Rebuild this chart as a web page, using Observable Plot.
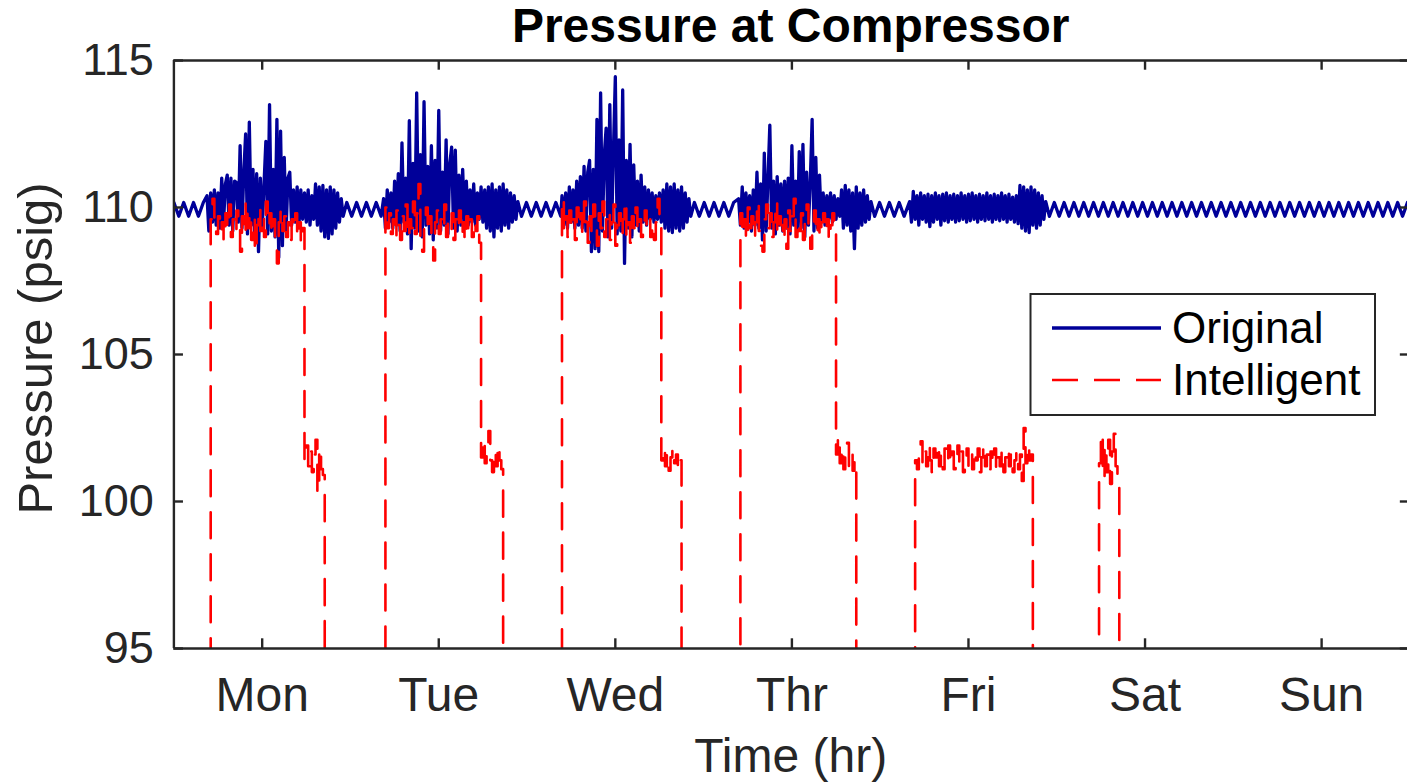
<!DOCTYPE html>
<html>
<head>
<meta charset="utf-8">
<script src="https://cdn.jsdelivr.net/npm/d3@7"></script>
<script src="https://cdn.jsdelivr.net/npm/@observablehq/plot@0.6"></script>
<style>
  body { margin: 0; background: #fff; overflow: hidden; }
  #chart { position: relative; width: 1407px; height: 784px; background: #fff;
           font-family: "Liberation Sans", Arial, Helvetica, sans-serif; }
  #chart svg.legend { position: absolute; left: 0; top: 0; }
</style>
</head>
<body>
<div id="chart"></div>
<script>
// ---- axis labels ----
const dayNames = ["Mon", "Tue", "Wed", "Thr", "Fri", "Sat", "Sun"];
const dayTicks = [12, 36, 60, 84, 108, 132, 156];          // hours (mid-day)
const pressureTicks = [95, 100, 105, 110, 115];            // psig

// sampling intervals (hours)
const busyStep = 0.25;
const quietStep = 2 / 3;

// ---- Original: compressor pressure (psig) ----
const quietMonMorning = [110.17,109.70,110.17,109.70,110.17,109.70,110.17];
const monOriginal = [110.4,109.2,110.5,109.5,110.6,109.4,110.5,109.3,111.0,109.5,
  110.8,111.1,109.4,111.0,109.2,110.9,110.85,109.5,112.1,109.3,
  111.2,112.5,109.1,112.9,109.4,111.3,108.9,111.15,108.5,111.0,
  109.3,110.8,112.25,109.1,113.5,109.2,111.3,109.0,113.0,108.3,
  112.6,108.7,111.7,109.2,111.0,111.2,109.4,110.6,109.5,110.7,
  109.4,110.6,109.6,110.5,109.5,110.6,109.4,110.4,109.6,110.8,
  109.4,110.7,109.2,110.75,109.0,110.6,108.95,110.7,109.1,110.6,
  109.3,110.5,109.5,110.3,109.7];
const quietMonNight = [110.17,109.70,110.17,109.70,110.17,109.70,110.17,109.70];
const tueOriginal = [110.3,109.3,110.6,109.5,110.5,109.3,110.9,109.4,111.15,109.2,
  112.2,109.5,111.0,109.1,112.95,108.6,111.5,109.3,113.9,109.2,
  111.8,109.0,113.6,109.4,111.4,109.1,112.1,108.9,111.6,109.3,
  113.3,109.2,111.2,109.4,112.3,109.1,111.5,112.05,109.3,111.95,
  109.2,111.1,109.4,111.3,109.5,110.9,109.4,110.6,109.5,110.8,
  109.4,110.5,109.6,110.7,109.5,110.6,109.3,110.7,109.2,110.8,
  109.0,110.6,109.3,110.7,109.2,110.8,109.4,110.6,109.3,110.5,
  109.5,110.4,109.6,110.2];
const quietTueNight = [109.70,110.17,109.70,110.17,109.70,110.17,109.70,110.17,109.70];
const wedOriginal = [110.4,109.4,110.5,109.3,110.7,109.5,110.6,109.3,110.9,109.4,
  111.05,109.3,111.4,109.2,111.2,111.6,108.5,111.3,108.6,113.0,
  108.5,113.9,109.2,111.8,112.7,109.0,113.5,109.3,112.0,114.45,
  109.1,112.3,109.2,114.0,108.1,111.6,109.3,112.15,109.0,111.45,
  109.4,110.9,109.2,111.1,109.5,110.7,109.4,110.6,109.6,110.5,
  109.5,110.4,109.6,110.5,109.5,110.6,109.3,110.8,109.2,110.7,
  109.15,110.8,109.3,110.6,109.2,110.7,109.3,110.5,109.5,110.3,
  109.7];
const quietWedNight = [110.17,109.70,110.17,109.70,110.17,109.70,110.17,109.70,110.17];
const thrOriginal = [110.3,109.4,110.7,109.3,110.5,109.5,110.4,109.2,110.6,109.4,
  111.2,109.3,110.8,108.9,111.85,109.2,111.0,112.8,109.3,110.9,
  109.1,111.05,109.4,110.8,109.2,110.9,109.3,111.0,109.1,112.1,
  109.4,110.9,109.2,111.9,109.3,112.15,109.0,111.2,109.4,110.9,
  113.0,109.2,111.7,109.3,111.1,109.5,110.5,109.4,110.4,109.6,
  110.5,109.5,110.4,109.6,110.3,109.7,110.6,109.3,110.75,109.4,
  110.6,109.2,110.5,108.6,110.7,109.3,110.5,109.4,110.6,109.5,
  110.4,109.6,110.2];
const quietThrNight = [109.70,110.17,109.70,110.17,109.70,110.17,109.70];
const friOriginal = [110.2,109.5,110.55,109.6,110.4,109.4,110.5,109.6,110.4,109.5,
  110.45,109.35,110.4,109.5,110.5,109.6,110.4,109.4,110.45,109.55,
  110.5,109.5,110.4,109.6,110.45,109.5,110.4,109.55,110.5,109.6,
  110.4,109.5,110.45,109.55,110.5,109.6,110.4,109.5,110.45,109.6,
  110.4,109.55,110.5,109.6,110.4,109.5,110.45,109.6,110.4,109.55,
  110.5,109.6,110.4,109.5,110.45,109.6,110.35,109.5,110.4,109.45,
  110.75,109.3,110.7,109.2,110.6,109.15,110.7,109.4,110.6,109.3,
  110.5,109.4,110.4,109.6,110.2];
const quietWeekend = [109.70,110.17,109.70,110.17,109.70,110.17,109.70,110.17,109.70,110.17,
  109.70,110.17,109.70,110.17,109.70,110.17,109.70,110.17,109.70,110.17,
  109.70,110.17,109.70,110.17,109.70,110.17,109.70,110.17,109.70,110.17,
  109.70,110.17,109.70,110.17,109.70,110.17,109.70,110.17,109.70,110.17,
  109.70,110.17,109.70,110.17,109.70,110.17,109.70,110.17,109.70,110.17,
  109.70,110.17,109.70,110.17,109.70,110.17,109.70,110.17,109.70,110.17,
  109.70,110.17,109.70,110.17,109.70,110.17,109.70,110.17,109.70,110.17,
  109.70,110.17,109.70,110.17,109.70];

// ---- Intelligent: compressor pressure (psig); 0 = compressor off ----
const monIntelligent = [109.6,110.3,109.4,109.1,109.7,109.2,109.5,108.9,109.8,109.3,
  110.1,109.0,109.6,109.2,109.9,109.4,108.5,109.7,109.1,110.2,
  109.3,109.8,108.9,109.6,108.5,109.4,110.0,109.2,109.7,109.0,
  110.2,109.4,109.8,109.1,109.6,108.8,108.1,109.5,109.9,109.2,
  109.7,109.0,109.5,108.9,109.6,109.3,109.8,109.0,109.5,108.8,
  109.3,
  101.4,101.9,101.2,101.7,101.0,101.6,102.1,100.3,101.8,101.1,100.9,
  0];
const tueIntelligent = [110.0,109.3,109.8,109.1,109.6,109.0,109.9,109.4,108.9,109.7,
  109.2,110.1,109.0,109.6,109.3,110.2,109.1,109.8,110.8,108.6,
  108.5,109.4,110.0,109.2,109.7,108.9,108.2,109.5,109.9,109.1,
  109.6,109.3,110.1,109.0,109.5,109.2,109.8,108.9,109.6,109.3,
  109.9,109.1,109.5,108.9,109.7,109.2,109.6,109.0,109.5,109.2,
  109.7,108.8,
  101.5,102.1,101.3,101.8,102.4,101.4,101.0,101.7,101.2,101.9,101.4,101.1,
  0];
const wedIntelligent = [110.3,109.2,109.7,109.0,109.9,109.3,109.6,108.9,110.0,109.4,
  109.8,109.1,110.2,109.5,108.8,109.7,109.2,110.1,109.4,108.7,
  109.8,109.3,110.2,109.0,109.6,109.9,108.9,109.5,110.1,108.7,
  109.4,109.8,109.1,109.6,110.2,109.0,109.5,108.8,109.7,109.3,
  110.0,109.2,109.6,109.0,109.5,109.9,109.3,109.6,109.0,109.4,
  108.9,109.5,110.3,109.3,
  101.4,101.8,101.2,101.6,101.05,101.5,101.8,101.3,101.6,101.1,101.4,
  0];
const thrIntelligent = [109.8,109.1,109.6,108.9,110.0,109.3,109.7,109.0,109.5,110.2,
  109.2,108.7,108.5,109.6,110.1,109.3,109.8,109.0,109.5,110.2,
  109.1,109.7,109.4,108.9,109.6,108.6,109.9,109.2,109.7,110.3,
  109.0,109.5,109.2,109.8,108.9,109.6,110.1,109.3,108.6,109.4,
  109.9,109.1,109.6,109.0,109.5,109.8,109.2,109.6,108.9,109.4,
  109.8,109.1,
  101.6,102.2,101.3,101.8,101.1,101.5,102.0,101.2,101.6,101.05,101.4,
  0];
const friIntelligent = [101.4,101.1,101.8,102.05,101.3,101.7,101.2,101.9,101.4,101.0,
  101.8,101.5,101.9,101.2,101.6,101.1,101.8,101.4,101.9,101.3,
  101.7,101.1,101.6,101.9,101.3,101.7,101.0,101.5,101.8,101.2,
  101.6,101.1,101.7,101.4,101.8,101.0,101.5,101.9,101.2,101.6,
  101.1,101.7,101.3,101.8,101.1,101.5,101.2,101.7,101.0,101.5,
  101.8,101.2,101.6,101.0,101.4,101.7,101.1,101.6,100.7,102.5,
  101.3,101.9,101.4,101.6,
  0];
const satIntelligent = [101.3,102.3,100.8,101.9,101.0,102.1,100.6,101.7,102.3,101.2,100.9,0];

// ---- segment start times (hours since Monday 00:00) ----
const originalSegments = [
  [0, quietStep, quietMonMorning], [4.5, busyStep, monOriginal],
  [23.5, quietStep, quietMonNight], [28.5, busyStep, tueOriginal],
  [47.25, quietStep, quietTueNight], [52.75, busyStep, wedOriginal],
  [70.75, quietStep, quietWedNight], [76.75, busyStep, thrOriginal],
  [95.25, quietStep, quietThrNight], [100, busyStep, friOriginal],
  [119, quietStep, quietWeekend]
];
const intelligentSegments = [
  [5.0, busyStep, monIntelligent], [28.75, busyStep, tueIntelligent],
  [52.75, busyStep, wedIntelligent], [77.0, busyStep, thrIntelligent],
  [100.75, busyStep, friIntelligent], [125.75, busyStep, satIntelligent]
];

const toRows = segs => segs.flatMap(([start, step, values]) =>
  values.map((p, i) => ({t: start + i * step, p})));

const original = toRows(originalSegments);
const intelligent = [{t: 0, p: 0}, ...toRows(intelligentSegments), {t: 168, p: 0}];

const axisColor = "#262626";
const font = "Liberation Sans, Arial, Helvetica, sans-serif";
const blue = "#000099";
const red = "#ff0000";

const chart = Plot.plot({
  width: 1407,
  height: 784,
  marginLeft: 173.4,
  marginRight: 0,
  marginTop: 60,
  marginBottom: 136,
  style: {fontFamily: font, background: "white", overflow: "visible"},
  x: {domain: [0, 168], range: [173.4, 1409.4], axis: null},
  y: {domain: [95, 115], range: [648, 60], axis: null},
  marks: [
    Plot.line(original, {x: "t", y: "p", stroke: blue, strokeWidth: 3.3, clip: true}),
    Plot.line(intelligent, {x: "t", y: "p", stroke: red, strokeWidth: 2.6,
      strokeDasharray: "26,16", curve: "step-after", clip: true}),

    // box
    Plot.ruleX([0], {x: d => d, y1: () => 95, y2: () => 115, stroke: axisColor, strokeWidth: 2.4}),
    Plot.ruleY([95, 115], {y: d => d, x1: () => 0, x2: () => 168, stroke: axisColor, strokeWidth: 2.4}),

    // inward ticks
    Plot.ruleY(pressureTicks, {y: d => d, x1: () => 0, x2: () => 1.3, stroke: axisColor, strokeWidth: 2.4}),
    Plot.ruleY(pressureTicks, {y: d => d, x1: () => 166.7, x2: () => 168, stroke: axisColor, strokeWidth: 2.4}),
    Plot.ruleX(dayTicks, {x: d => d, y1: () => 95, y2: () => 95.33, stroke: axisColor, strokeWidth: 2.4}),
    Plot.ruleX(dayTicks, {x: d => d, y1: () => 115, y2: () => 114.67, stroke: axisColor, strokeWidth: 2.4}),

    // tick labels
    Plot.text(pressureTicks, {x: () => 0, y: d => d, text: d => String(d), textAnchor: "end",
      lineAnchor: "middle", dx: -20, fontSize: 45, fill: axisColor, fontFamily: font}),
    Plot.text(dayTicks, {x: d => d, y: () => 95, text: (d, i) => dayNames[i],
      lineAnchor: "middle", dy: 47, fontSize: 48, fill: axisColor, fontFamily: font}),

    // axis titles
    Plot.text(["Time (hr)"], {frameAnchor: "bottom", text: d => d, lineAnchor: "middle",
      dy: 108, fontSize: 48, fill: axisColor, fontFamily: font}),
    Plot.text(["Pressure (psig)"], {frameAnchor: "left", text: d => d, rotate: -90,
      textAnchor: "middle", lineAnchor: "middle", dx: -138, dy: -6, fontSize: 49,
      fill: axisColor, fontFamily: font}),
    Plot.text(["Pressure at Compressor"], {frameAnchor: "top", text: d => d, lineAnchor: "middle",
      dy: -34, fontSize: 48, fontWeight: "bold", fill: "#000", fontFamily: font})
  ]
});

const container = document.getElementById("chart");
container.appendChild(chart);

// legend box
const legend = d3.select(container).append("svg")
  .attr("class", "legend").attr("width", 1407).attr("height", 784);
legend.append("rect").attr("x", 1030.5).attr("y", 294).attr("width", 344.5).attr("height", 121)
  .attr("fill", "white").attr("stroke", axisColor).attr("stroke-width", 2);
const entries = [
  {label: "Original", color: blue, dash: null, width: 3.3},
  {label: "Intelligent", color: red, dash: "26,16", width: 2.6}
];
entries.forEach((e, i) => {
  const y = 328 + i * 52;
  legend.append("line").attr("x1", 1052).attr("x2", 1161).attr("y1", y).attr("y2", y)
    .attr("stroke", e.color).attr("stroke-width", e.width)
    .attr("stroke-dasharray", e.dash);
  legend.append("text").attr("x", 1172).attr("y", y + 15)
    .attr("font-family", font).attr("font-size", 44).attr("fill", "#000")
    .text(e.label);
});
</script>
</body>
</html>
